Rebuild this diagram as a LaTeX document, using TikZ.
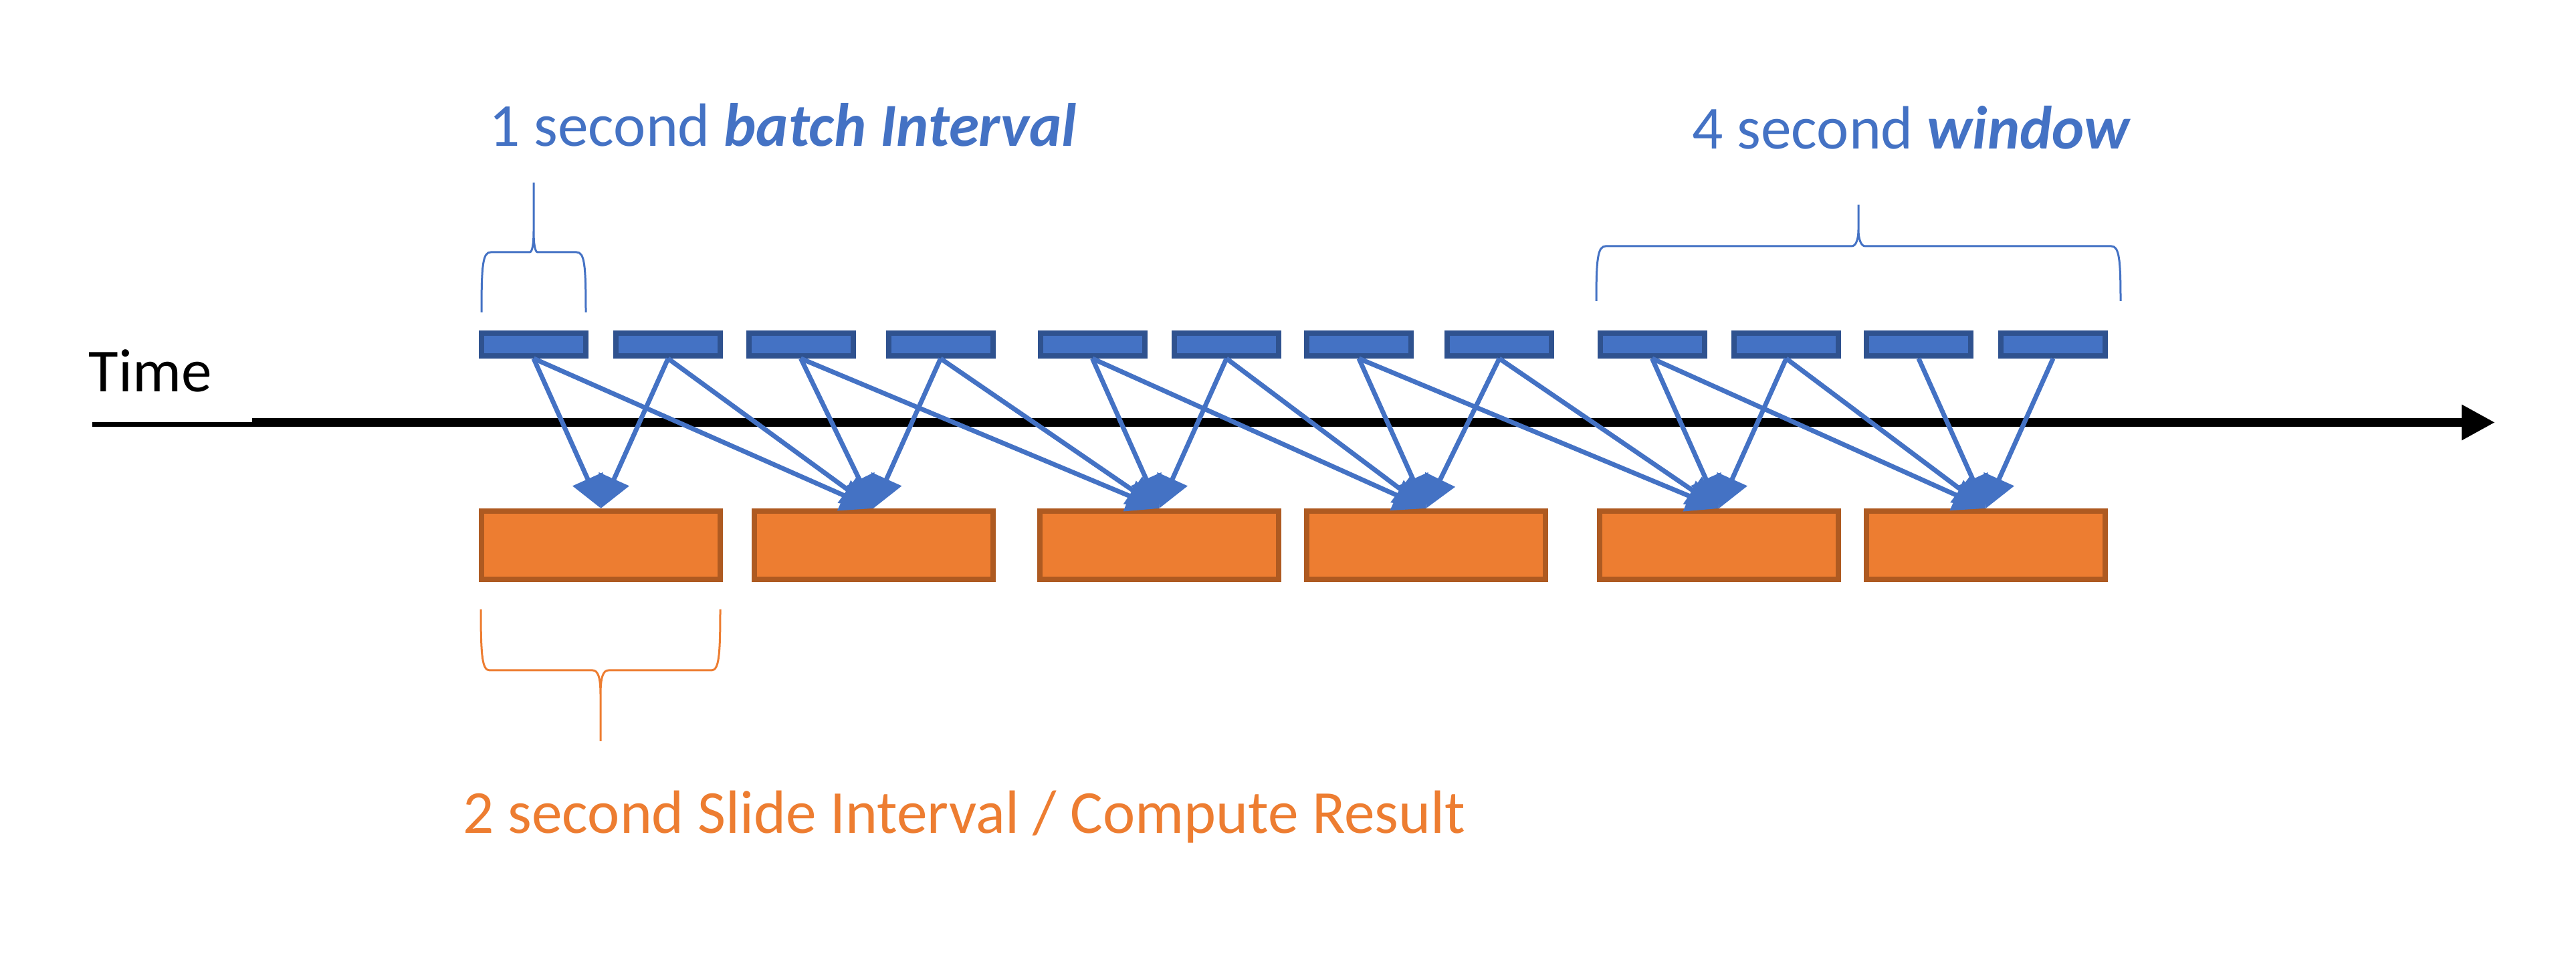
\documentclass[tikz,border=0pt]{standalone}
\usepackage{fontspec}
\setmainfont{Carlito}
\usepackage{tikz}
\usetikzlibrary{arrows.meta}
\definecolor{batchblue}{HTML}{4472C4}
\definecolor{batchedge}{HTML}{2F528F}
\definecolor{slideorange}{HTML}{ED7D31}
\definecolor{slideedge}{HTML}{AE5A21}

\begin{document}
\begin{tikzpicture}[
        batch/.style = {draw = batchedge, fill = batchblue, line width = 0.08cm, minimum width = 1.56cm, minimum height = 0.34cm, inner sep = 0},
        result/.style = {draw = slideedge, fill = slideorange, line width = 0.08cm, minimum width = 3.57cm, minimum height = 1.02cm, inner sep = 0},
        feed/.style = {draw = batchblue, line width = 0.07cm, -{Triangle[length = 0.48cm, width = 0.48cm]}},
        bracket/.style = {line width = 0.03cm},
        textlabel/.style = {anchor = base west, inner sep = 0, font = \fontsize{26}{31}\selectfont}
    ]
        \useasboundingbox (0,0) rectangle (38.52,14.50);

        % time axis
        \coordinate (t0) at (1.38,8.155);
        \coordinate (t1) at (3.77,8.155);
        \coordinate (t2) at (3.77,8.185);
        \coordinate (t3) at (37.31,8.185);
        \draw[line width = 0.07cm] (t0) -- (t1);
        \draw[line width = 0.13cm, -{Triangle[length = 0.5cm, width = 0.5cm]}] (t2) -- (t3);
        \node[textlabel] (time) at (1.32,8.64) {Time};

        % batches and results
        \foreach \x [count = \i] in {7.98, 9.99, 11.975, 14.065, 16.335, 18.34, 20.32, 22.42, 24.705, 26.71, 28.69, 30.70}
            \node[batch] (b\i) at (\x, 9.35) {};
        \foreach \x [count = \i] in {8.985, 13.06, 17.335, 21.325, 25.705, 29.695}
            \node[result] (r\i) at (\x, 6.35) {};

        % each result takes the last four batches
        \draw[feed] (b1.south) -- (r1.north);
        \draw[feed] (b2.south) -- (r1.north);
        \foreach \k in {2,...,6} {
            \pgfmathtruncatemacro{\first}{2*\k - 3}
            \foreach \j in {0,...,3} {
                \pgfmathtruncatemacro{\src}{\first + \j}
                \draw[feed] (b\src.south) -- (r\k.north);
            }
        }

        % braces
        \draw[batchblue, bracket] (7.20,9.83) .. controls (7.20,10.55) and (7.22,10.73) .. (7.34,10.73) -- (7.92,10.73) .. controls (7.96,10.73) and (7.98,10.85) .. (7.98,11.05) -- (7.98,11.77)
            -- (7.98,11.05) .. controls (7.98,10.85) and (8.00,10.73) .. (8.04,10.73) -- (8.62,10.73) .. controls (8.74,10.73) and (8.76,10.55) .. (8.76,9.83);
        \draw[batchblue, bracket] (23.87,10.00) .. controls (23.87,10.62) and (23.89,10.82) .. (24.01,10.82) -- (27.69,10.82) .. controls (27.75,10.82) and (27.79,10.92) .. (27.79,11.07) -- (27.79,11.44)
            -- (27.79,11.07) .. controls (27.79,10.92) and (27.83,10.82) .. (27.89,10.82) -- (31.57,10.82) .. controls (31.69,10.82) and (31.71,10.62) .. (31.71,10.00);
        \draw[slideorange, bracket] (7.19,5.39) .. controls (7.19,4.70) and (7.21,4.48) .. (7.32,4.48) -- (8.86,4.48) .. controls (8.94,4.48) and (8.98,4.38) .. (8.98,4.12) -- (8.98,3.42)
            -- (8.98,4.12) .. controls (8.98,4.38) and (9.02,4.48) .. (9.10,4.48) -- (10.64,4.48) .. controls (10.75,4.48) and (10.77,4.70) .. (10.77,5.39);

        % captions
        \node[textlabel, text = batchblue] (batchtext) at (7.31,12.31) {1 second \textbf{\textit{batch Interval}}};
        \node[textlabel, text = batchblue] (windowtext) at (25.30,12.27) {4 second \textbf{\textit{window}}};
        \node[textlabel, text = slideorange] (slidetext) at (6.92,2.04) {2 second Slide Interval / Compute Result};
\end{tikzpicture}
\end{document}
